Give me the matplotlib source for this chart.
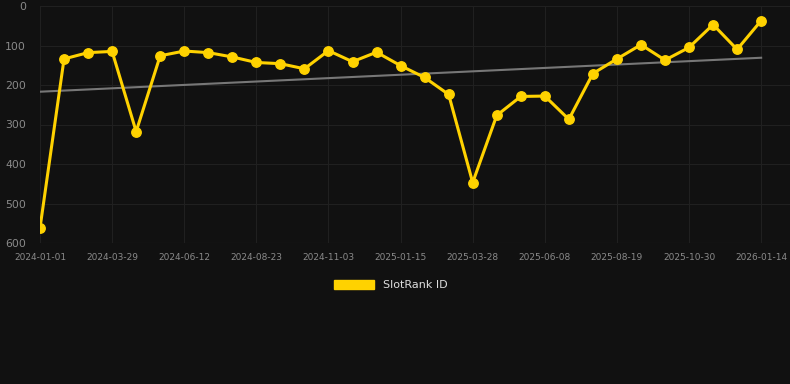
import matplotlib
matplotlib.use("Agg")
import matplotlib.pyplot as plt
from matplotlib.patches import Patch
import numpy as np

# rank values (lower is better, axis inverted)
ranks = [562, 134, 118, 115, 318, 126, 114, 118, 129, 143, 146, 159, 113, 141, 117,
         151, 181, 224, 447, 277, 229, 228, 287, 171, 134, 98, 137, 105, 47, 110, 37]
tick_labels = ["2024-01-01", "2024-03-29", "2024-06-12", "2024-08-23", "2024-11-03",
               "2025-01-15", "2025-03-28", "2025-06-08", "2025-08-19", "2025-10-30",
               "2026-01-14"]
trend_ends = [217, 131]

BG = "#111111"
YELLOW = "#FFD200"

fig = plt.figure(figsize=(7.9, 3.84), dpi=100, facecolor=BG)
ax = fig.add_axes([40 / 790, 1 - 243 / 384, 750 / 790, 237 / 384])
ax.set_facecolor(BG)

x = np.arange(len(ranks))
ax.plot([x[0], x[-1]], trend_ends, color="#777777", linewidth=1.5, zorder=2)
ax.plot(x, ranks, color=YELLOW, linewidth=2.2, marker="o", markersize=6.8, zorder=3)

ax.set_ylim(600, 0)
ax.set_yticks(range(0, 601, 100))
ax.set_xlim(0, 31.2)
ax.set_xticks(x[::3])
ax.set_xticklabels(tick_labels)

ax.grid(True, color="#202020", linewidth=0.8)
ax.set_axisbelow(True)
for s in ax.spines.values():
    s.set_visible(False)
ax.axhline(600, color="#2a2a2a", linewidth=0.8)
ax.tick_params(axis="x", colors="#777777", labelsize=6.5, length=0, pad=7)
ax.tick_params(axis="y", colors="#777777", labelsize=7.8, length=0, pad=10)
for lab in ax.get_xticklabels():
    lab.set_color("#8a8a8a")
for lab in ax.get_yticklabels():
    lab.set_color("#8a8a8a")

fig.legend(handles=[Patch(color=YELLOW, label="SlotRank ID")], loc="center",
           bbox_to_anchor=(391 / 790, 1 - 285 / 384), frameon=False,
           labelcolor="#dddddd", fontsize=8, handlelength=3.6, handleheight=0.9)

fig.savefig("out.png", dpi=100, facecolor=BG)
